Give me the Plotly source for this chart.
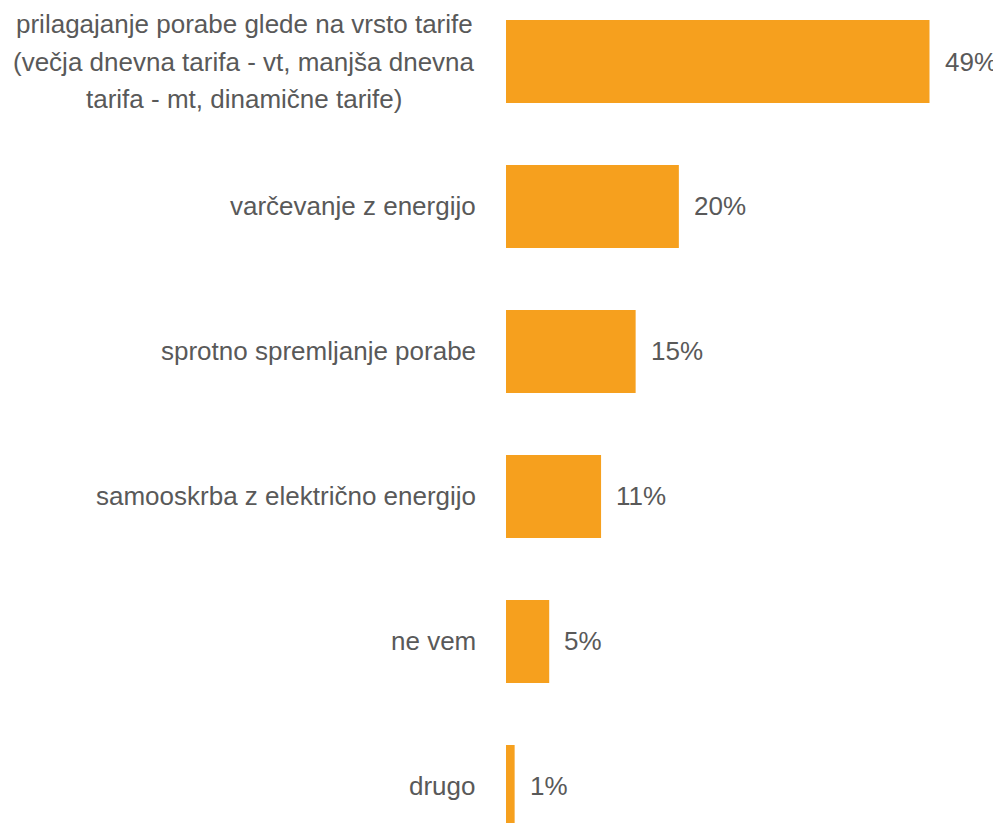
import plotly.graph_objects as go

categories = [
    "prilagajanje porabe glede na vrsto tarife<br>(večja dnevna tarifa - vt, manjša dnevna<br>tarifa - mt, dinamične tarife)",
    "varčevanje z energijo",
    "sprotno spremljanje porabe",
    "samooskrba z električno energijo",
    "ne vem",
    "drugo",
]
values = [49, 20, 15, 11, 5, 1]
value_labels = ["49%", "20%", "15%", "11%", "5%", "1%"]

FONT = "Liberation Sans, Arial, sans-serif"
TEXT_COLOR = "#595959"
BAR_COLOR = "#F6A01E"
FS = 26
LINE_H = 37.5

positions = list(range(len(categories)))

fig = go.Figure()
fig.add_trace(go.Bar(
    x=values,
    y=positions,
    orientation="h",
    width=0.572,
    marker=dict(color=BAR_COLOR, line=dict(width=0)),
    hoverinfo="skip",
))

annotations = []
for i, (cat, v, lab) in enumerate(zip(categories, values, value_labels)):
    lines = cat.split("<br>")
    n = len(lines)
    for k, line in enumerate(lines):
        if n == 1:
            xanchor, xshift = "right", -28
        else:
            xanchor, xshift = "center", -262
        annotations.append(dict(
            x=0, xref="paper", y=i, yref="y",
            text=line, showarrow=False,
            xanchor=xanchor, yanchor="middle",
            xshift=xshift,
            yshift=((n - 1) / 2 - k) * LINE_H,
            font=dict(family=FONT, size=FS, color=TEXT_COLOR),
        ))
    annotations.append(dict(
        x=v, xref="x", y=i, yref="y",
        text=lab, showarrow=False,
        xanchor="left", yanchor="middle",
        xshift=13,
        font=dict(family=FONT, size=FS, color=TEXT_COLOR),
    ))

fig.update_layout(
    width=993, height=815,
    margin=dict(l=498, r=11, t=0, b=0),
    paper_bgcolor="white", plot_bgcolor="white",
    showlegend=False,
    xaxis=dict(range=[0, 56], visible=False, fixedrange=True),
    yaxis=dict(range=[5.252, -0.369], visible=False, fixedrange=True),
    annotations=annotations,
    font=dict(family=FONT, size=FS, color=TEXT_COLOR),
)

fig.write_html("out.html")
